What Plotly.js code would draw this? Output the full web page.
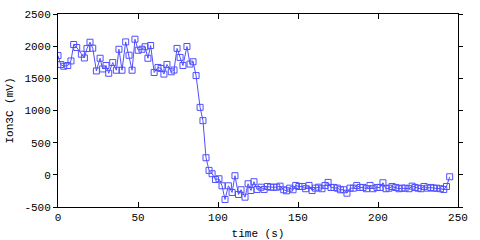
<!DOCTYPE html>
<html>
<head>
<meta charset="utf-8">
<script src="https://cdn.plot.ly/plotly-3.0.1.min.js"></script>
<style>html,body{margin:0;padding:0;background:#fff;}#chart{width:480px;height:240px;}</style>
</head>
<body>
<div id="chart"></div>
<script>
const timeS = [0,1.7,3.6,6.1,8.1,9.8,11.7,14.6,16.5,18.1,20.0,21.7,24.0,26.3,27.9,30.0,31.7,34.2,36.5,38.1,40.0,42.3,44.4,46.3,48.1,50.1,52.5,54.4,56.2,57.9,60.1,62.5,64.4,66.2,68.1,70.8,72.5,74.4,76.3,78.1,80.6,82.5,84.4,86.3,88.8,90.6,92.5,94.4,96.3,98.4,100.6,102.5,104.4,106.5,108.8,110.6,112.8,114.4,116.9,118.8,120.6,122.5,124.4,126.9,128.8,130.9,132.9,134.8,136.7,138.8,141.1,142.8,144.8,146.9,148.6,150.6,152.8,154.8,156.9,158.8,160.9,162.9,165.0,166.9,168.8,170.6,172.5,174.6,176.5,178.6,180.6,182.5,184.6,186.7,188.8,190.6,192.8,195.0,196.9,199.4,201.3,203.1,205.0,206.9,208.8,211.1,213.1,215.0,216.9,219.4,221.3,223.1,225.0,226.9,228.8,230.9,233.0,234.8,236.7,239.0,241.1,242.8,244.8];
const ion3C = [1854,1714,1688,1699,1770,2026,1979,1875,1817,1963,2061,1968,1615,1812,1646,1699,1579,1745,1626,1952,1626,2066,1859,1626,2108,1937,1952,1991,1812,2010,1591,1669,1654,1566,1716,1602,1629,1965,1825,1700,1995,1722,1758,1543,1049,842,266,69,17,-72,-61,-170,-383,-170,-274,-14,-305,-232,-347,-139,-243,-107,-227,-192,-227,-181,-192,-192,-192,-176,-232,-248,-207,-232,-165,-181,-181,-216,-165,-243,-207,-192,-216,-165,-118,-196,-196,-207,-232,-232,-285,-207,-207,-165,-196,-196,-216,-165,-216,-196,-196,-123,-216,-207,-181,-196,-216,-207,-207,-216,-176,-196,-207,-216,-181,-207,-196,-207,-207,-216,-227,-181,-30];
const xTicks = [0,50,100,150,200,250];
const yTicks = [-500,0,500,1000,1500,2000,2500];

const font = {family: 'Liberation Mono, DejaVu Sans Mono, monospace', size: 11, color: '#000'};
const trace = {
  x: timeS, y: ion3C, type: 'scatter', mode: 'lines+markers',
  line: {color: '#4f4fff', width: 1},
  marker: {symbol: 'square-open', size: 6, color: '#4f4fff', line: {width: 1, color: '#4f4fff'}},
  hoverinfo: 'skip'
};
const layout = {
  width: 480, height: 240,
  margin: {l: 58, r: 22, t: 14, b: 33},
  paper_bgcolor: '#fff', plot_bgcolor: '#fff',
  showlegend: false,
  font: font,
  xaxis: {
    range: [0, 250], tickvals: xTicks, ticktext: xTicks.map(String),
    showgrid: false, zeroline: false,
    showline: true, linecolor: '#000', linewidth: 1, mirror: 'ticks',
    ticks: 'inside', ticklen: 5, tickcolor: '#000', tickfont: font,
    title: {text: 'time (s)', font: font, standoff: 7}
  },
  yaxis: {
    range: [-500, 2500], tickvals: yTicks, ticktext: yTicks.map(String),
    showgrid: false, zeroline: false,
    showline: true, linecolor: '#000', linewidth: 1, mirror: 'ticks',
    ticks: 'outside', ticklen: 4, tickcolor: '#000', tickfont: font,
    title: {text: 'Ion3C (mV)', font: font, standoff: 8}
  }
};
Plotly.newPlot('chart', [trace], layout, {staticPlot: true, displayModeBar: false});
</script>
</body>
</html>
